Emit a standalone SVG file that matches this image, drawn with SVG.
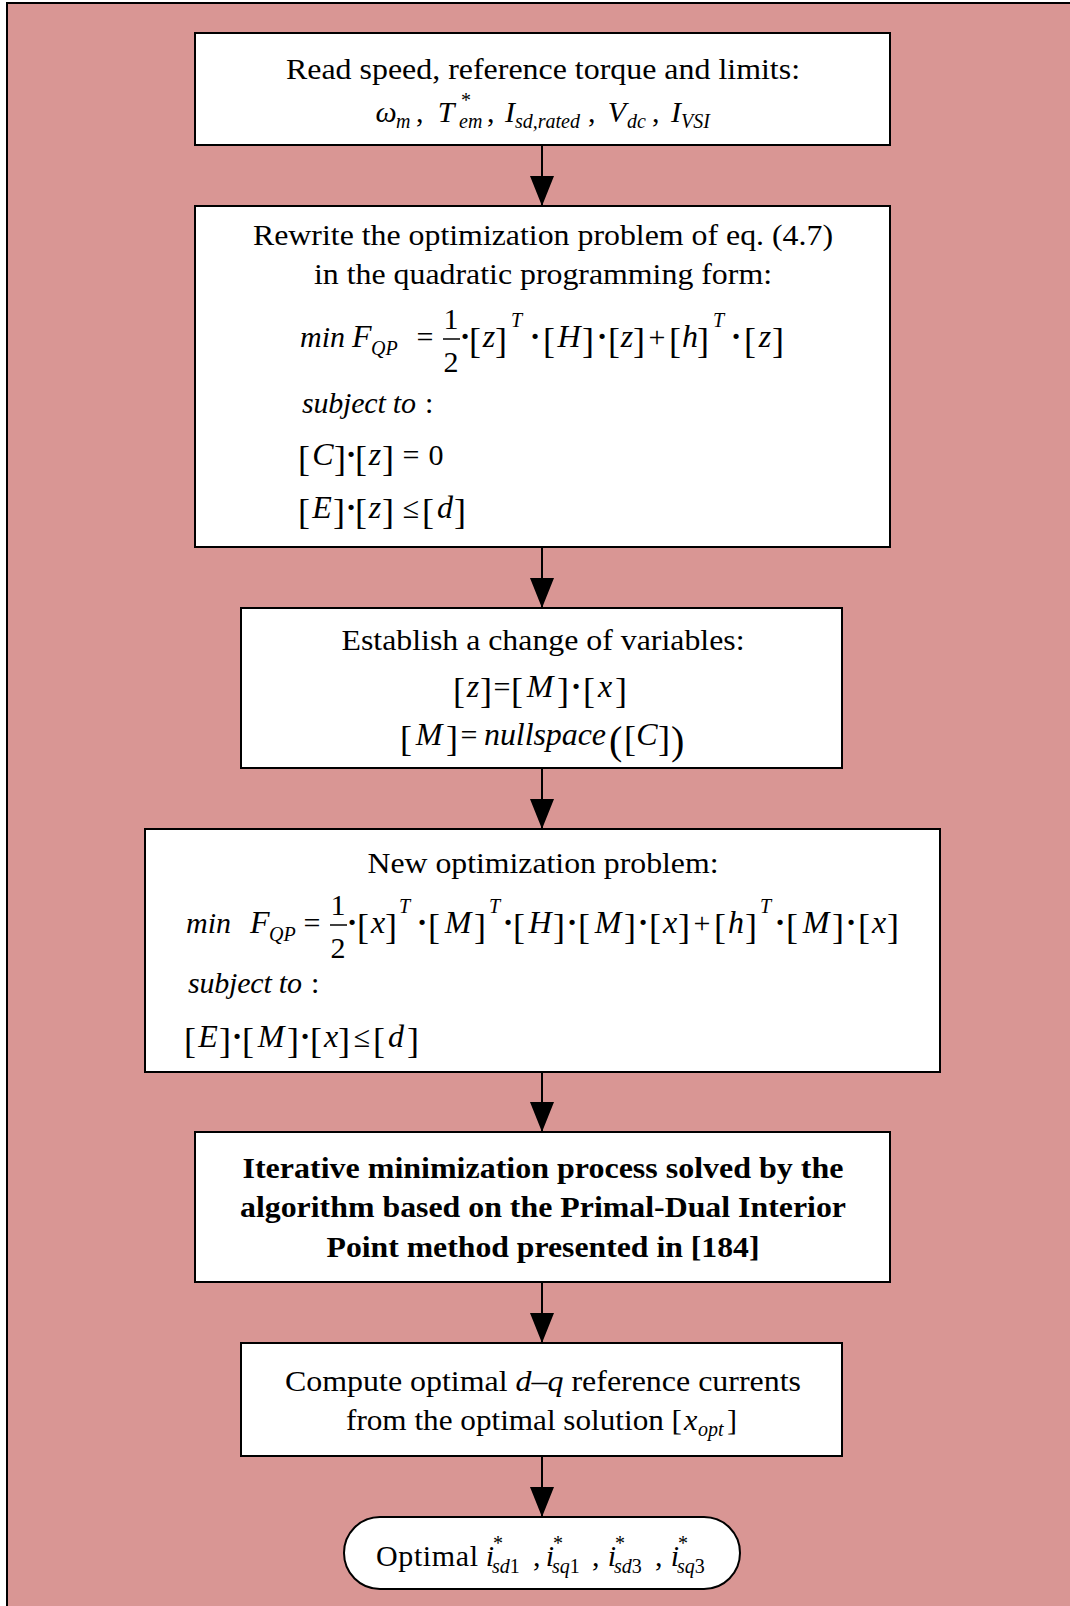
<svg xmlns="http://www.w3.org/2000/svg" width="1070" height="1606" viewBox="0 0 1070 1606">
<defs>
<style>
.t{font-family:"Liberation Serif","Times New Roman",serif;font-size:30px;fill:#000}
.it{font-style:italic}
.v{font-style:italic;font-size:32px;text-anchor:middle}
.sb{font-size:20px}
.br{font-size:36px;font-style:normal}
.e{text-anchor:end}
.pr{font-size:40px;font-style:normal}
.dt{font-size:32px;font-weight:bold}
.bd{font-weight:bold}
.m{text-anchor:middle}
.box{fill:#fff;stroke:#000;stroke-width:2}
.ln{stroke:#000;stroke-width:2;fill:none}
</style>
<marker id="ah" markerUnits="userSpaceOnUse" markerWidth="30" markerHeight="24" refX="30" refY="12" orient="auto">
<path d="M0,0 L30,12 L0,24 Z" fill="#000"/>
</marker>
</defs>
<rect x="0" y="0" width="1070" height="1606" fill="#fff"/>
<rect x="7" y="3" width="1075" height="1620" fill="#D99694" stroke="#000" stroke-width="2"/>

<g id="connectors">
<line class="ln" x1="542" y1="145" x2="542" y2="206" marker-end="url(#ah)"/>
<line class="ln" x1="542" y1="547" x2="542" y2="608" marker-end="url(#ah)"/>
<line class="ln" x1="542" y1="768" x2="542" y2="829" marker-end="url(#ah)"/>
<line class="ln" x1="542" y1="1072" x2="542" y2="1132" marker-end="url(#ah)"/>
<line class="ln" x1="542" y1="1282" x2="542" y2="1343" marker-end="url(#ah)"/>
<line class="ln" x1="542" y1="1456" x2="542" y2="1517" marker-end="url(#ah)"/>
</g>

<g id="n1">
<rect class="box" x="195" y="33" width="695" height="112"/>
<text class="t" x="286" y="79" textLength="514" lengthAdjust="spacingAndGlyphs">Read speed, reference torque and limits:</text>
<text class="t"><tspan class="it m" x="386" y="122">ω</tspan><tspan class="it sb" x="396" y="128">m</tspan><tspan x="416" y="122">,</tspan><tspan class="it m" x="446" y="122">T</tspan><tspan class="sb" x="461" y="107">*</tspan><tspan class="it sb" x="459" y="128">em</tspan><tspan x="487" y="122">,</tspan><tspan class="it m" x="510" y="122">I</tspan><tspan class="it sb" x="515" y="128">sd,rated</tspan><tspan x="588" y="122">,</tspan><tspan class="it m" x="617" y="122">V</tspan><tspan class="it sb" x="627" y="128">dc</tspan><tspan x="652" y="122">,</tspan><tspan class="it m" x="676" y="122">I</tspan><tspan class="it sb" x="681" y="128">VSI</tspan></text>
</g>

<g id="n2">
<rect class="box" x="195" y="206" width="695" height="341"/>
<text class="t m" x="543" y="245" textLength="580" lengthAdjust="spacingAndGlyphs">Rewrite the optimization problem of eq. (4.7)</text>
<text class="t m" x="543" y="284" textLength="458" lengthAdjust="spacingAndGlyphs">in the quadratic programming form:</text>
<text class="t"><tspan class="it" x="300" y="347">min</tspan><tspan class="it" style="font-size:32px" x="352" y="347">F</tspan><tspan class="it sb" x="371" y="355">QP</tspan><tspan class="m" x="425" y="347">=</tspan><tspan class="m" x="451" y="329">1</tspan><tspan class="m" x="451" y="372">2</tspan><tspan class="m dt" x="465" y="347">·</tspan><tspan class="br" x="469" y="353">[</tspan><tspan class="v" x="489" y="347">z</tspan><tspan class="br e" x="507" y="353">]</tspan><tspan class="it sb" x="511" y="327">T</tspan><tspan class="m dt" x="535" y="347">·</tspan><tspan class="br" x="543" y="353">[</tspan><tspan class="v" x="569" y="347">H</tspan><tspan class="br e" x="594" y="353">]</tspan><tspan class="m dt" x="602" y="347">·</tspan><tspan class="br" x="608" y="353">[</tspan><tspan class="v" x="627" y="347">z</tspan><tspan class="br e" x="645" y="353">]</tspan><tspan class="m" x="657" y="347">+</tspan><tspan class="br" x="669" y="353">[</tspan><tspan class="v" x="690" y="347">h</tspan><tspan class="br e" x="709" y="353">]</tspan><tspan class="it sb" x="713" y="327">T</tspan><tspan class="m dt" x="736" y="347">·</tspan><tspan class="br" x="744" y="353">[</tspan><tspan class="v" x="765" y="347">z</tspan><tspan class="br e" x="784" y="353">]</tspan></text>
<line x1="443" y1="339" x2="460" y2="339" stroke="#000" stroke-width="1.5"/>
<text class="t" x="302" y="413"><tspan class="it" textLength="114">subject to</tspan><tspan x="425">:</tspan></text>
<text class="t"><tspan class="br" x="298" y="471">[</tspan><tspan class="v" x="323" y="465">C</tspan><tspan class="br e" x="346" y="471">]</tspan><tspan class="m dt" x="351" y="465">·</tspan><tspan class="br" x="355" y="471">[</tspan><tspan class="v" x="375" y="465">z</tspan><tspan class="br e" x="394" y="471">]</tspan><tspan class="m" x="411" y="465">=</tspan><tspan class="m" x="436" y="465">0</tspan></text>
<text class="t"><tspan class="br" x="298" y="524">[</tspan><tspan class="v" x="322" y="518">E</tspan><tspan class="br e" x="345" y="524">]</tspan><tspan class="m dt" x="351" y="518">·</tspan><tspan class="br" x="355" y="524">[</tspan><tspan class="v" x="375" y="518">z</tspan><tspan class="br e" x="394" y="524">]</tspan><tspan class="m" x="411" y="518">≤</tspan><tspan class="br" x="422" y="524">[</tspan><tspan class="v" x="445" y="518">d</tspan><tspan class="br e" x="466" y="524">]</tspan></text>
</g>

<g id="n3">
<rect class="box" x="241" y="608" width="601" height="160"/>
<text class="t m" x="543" y="650" textLength="403" lengthAdjust="spacingAndGlyphs">Establish a change of variables:</text>
<text class="t"><tspan class="br" x="453" y="703">[</tspan><tspan class="v" x="473" y="697">z</tspan><tspan class="br e" x="492" y="703">]</tspan><tspan class="m" x="502" y="697">=</tspan><tspan class="br" x="511" y="703">[</tspan><tspan class="v" x="540" y="697">M</tspan><tspan class="br e" x="569" y="703">]</tspan><tspan class="m dt" x="576" y="697">·</tspan><tspan class="br" x="583" y="703">[</tspan><tspan class="v" x="605" y="697">x</tspan><tspan class="br e" x="627" y="703">]</tspan></text>
<text class="t"><tspan class="br" x="400" y="751">[</tspan><tspan class="v" x="429" y="745">M</tspan><tspan class="br e" x="458" y="751">]</tspan><tspan class="m" x="469" y="745">=</tspan><tspan class="it" style="font-size:32px" x="484" y="745" textLength="122">nullspace</tspan><tspan class="pr" x="609" y="754">(</tspan><tspan class="br" x="624" y="751">[</tspan><tspan class="v" x="647" y="745">C</tspan><tspan class="br e" x="670" y="751">]</tspan><tspan class="pr" x="671" y="754">)</tspan></text>
</g>

<g id="n4">
<rect class="box" x="145" y="829" width="795" height="243"/>
<text class="t m" x="543" y="873" textLength="351" lengthAdjust="spacingAndGlyphs">New optimization problem:</text>
<text class="t"><tspan class="it" x="186" y="933">min</tspan><tspan class="it" style="font-size:32px" x="250" y="933">F</tspan><tspan class="it sb" x="269" y="941">QP</tspan><tspan class="m" x="312" y="933">=</tspan><tspan class="m" x="338" y="915">1</tspan><tspan class="m" x="338" y="958">2</tspan><tspan class="m dt" x="352" y="933">·</tspan><tspan class="br" x="357" y="939">[</tspan><tspan class="v" x="378" y="933">x</tspan><tspan class="br e" x="397" y="939">]</tspan><tspan class="it sb" x="399" y="913">T</tspan><tspan class="m dt" x="422" y="933">·</tspan><tspan class="br" x="428" y="939">[</tspan><tspan class="v" x="458" y="933">M</tspan><tspan class="br e" x="486" y="939">]</tspan><tspan class="it sb" x="489" y="913">T</tspan><tspan class="m dt" x="508" y="933">·</tspan><tspan class="br" x="513" y="939">[</tspan><tspan class="v" x="540" y="933">H</tspan><tspan class="br e" x="565" y="939">]</tspan><tspan class="m dt" x="572" y="933">·</tspan><tspan class="br" x="578" y="939">[</tspan><tspan class="v" x="608" y="933">M</tspan><tspan class="br e" x="636" y="939">]</tspan><tspan class="m dt" x="643" y="933">·</tspan><tspan class="br" x="649" y="939">[</tspan><tspan class="v" x="670" y="933">x</tspan><tspan class="br e" x="690" y="939">]</tspan><tspan class="m" x="702" y="933">+</tspan><tspan class="br" x="714" y="939">[</tspan><tspan class="v" x="736" y="933">h</tspan><tspan class="br e" x="757" y="939">]</tspan><tspan class="it sb" x="760" y="913">T</tspan><tspan class="m dt" x="780" y="933">·</tspan><tspan class="br" x="786" y="939">[</tspan><tspan class="v" x="816" y="933">M</tspan><tspan class="br e" x="844" y="939">]</tspan><tspan class="m dt" x="851" y="933">·</tspan><tspan class="br" x="858" y="939">[</tspan><tspan class="v" x="879" y="933">x</tspan><tspan class="br e" x="899" y="939">]</tspan></text>
<line x1="330" y1="925" x2="347" y2="925" stroke="#000" stroke-width="1.5"/>
<text class="t" x="188" y="993"><tspan class="it" textLength="114">subject to</tspan><tspan x="311">:</tspan></text>
<text class="t"><tspan class="br" x="184" y="1053">[</tspan><tspan class="v" x="208" y="1047">E</tspan><tspan class="br e" x="231" y="1053">]</tspan><tspan class="m dt" x="237" y="1047">·</tspan><tspan class="br" x="242" y="1053">[</tspan><tspan class="v" x="271" y="1047">M</tspan><tspan class="br e" x="299" y="1053">]</tspan><tspan class="m dt" x="305" y="1047">·</tspan><tspan class="br" x="310" y="1053">[</tspan><tspan class="v" x="331" y="1047">x</tspan><tspan class="br e" x="350" y="1053">]</tspan><tspan class="m" x="362" y="1047">≤</tspan><tspan class="br" x="373" y="1053">[</tspan><tspan class="v" x="396" y="1047">d</tspan><tspan class="br e" x="419" y="1053">]</tspan></text>
</g>

<g id="n5">
<rect class="box" x="195" y="1132" width="695" height="150"/>
<text class="t bd m" x="543" y="1178" textLength="601" lengthAdjust="spacingAndGlyphs">Iterative minimization process solved by the</text>
<text class="t bd m" x="543" y="1217" textLength="606" lengthAdjust="spacingAndGlyphs">algorithm based on the Primal-Dual Interior</text>
<text class="t bd m" x="543" y="1257" textLength="433" lengthAdjust="spacingAndGlyphs">Point method presented in [184]</text>
</g>

<g id="n6">
<rect class="box" x="241" y="1343" width="601" height="113"/>
<text class="t" x="285" y="1391" textLength="516" lengthAdjust="spacingAndGlyphs">Compute optimal <tspan class="it">d–q</tspan> reference currents</text>
<text class="t" y="1430"><tspan x="346" textLength="336" lengthAdjust="spacingAndGlyphs">from the optimal solution [</tspan><tspan class="it" x="684">x</tspan><tspan class="it sb" x="698" y="1436">opt</tspan><tspan x="727" y="1430">]</tspan></text>
</g>

<g id="n7">
<rect class="box" x="344" y="1517" width="396" height="72" rx="36" ry="36"/>
<text class="t"><tspan x="376" y="1566" textLength="102">Optimal</tspan><tspan class="it m" x="490" y="1566">i</tspan><tspan class="sb" x="493" y="1550">*</tspan><tspan class="sb" x="492" y="1573"><tspan class="it">sd</tspan>1</tspan><tspan x="533" y="1566">,</tspan><tspan class="it m" x="550" y="1566">i</tspan><tspan class="sb" x="553" y="1550">*</tspan><tspan class="sb" x="552" y="1573"><tspan class="it">sq</tspan>1</tspan><tspan x="592" y="1566">,</tspan><tspan class="it m" x="612" y="1566">i</tspan><tspan class="sb" x="615" y="1550">*</tspan><tspan class="sb" x="614" y="1573"><tspan class="it">sd</tspan>3</tspan><tspan x="655" y="1566">,</tspan><tspan class="it m" x="675" y="1566">i</tspan><tspan class="sb" x="678" y="1550">*</tspan><tspan class="sb" x="677" y="1573"><tspan class="it">sq</tspan>3</tspan></text>
</g>
</svg>
